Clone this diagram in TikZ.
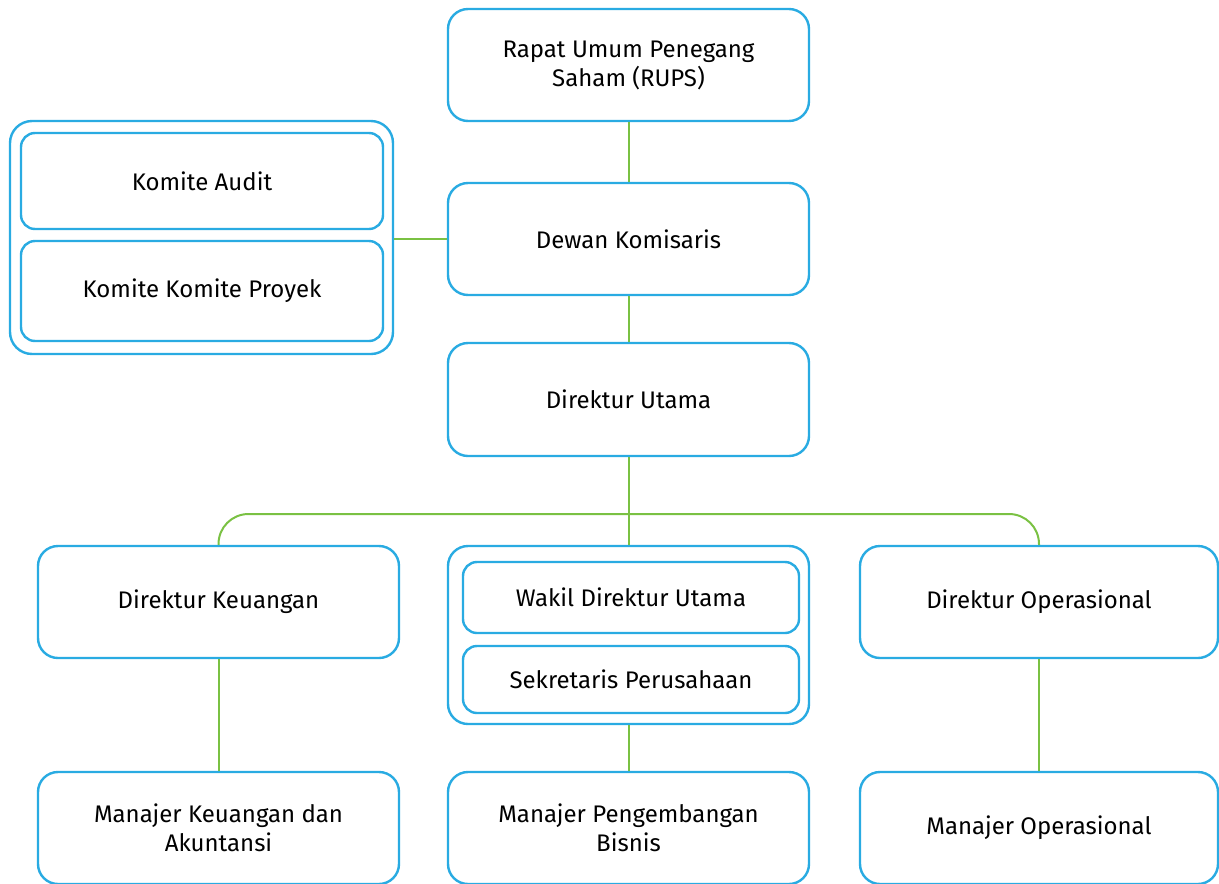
\documentclass[tikz,border=0pt]{standalone}
\usepackage{fontspec}
\setmainfont{Fira Sans}
\definecolor{bblue}{HTML}{29ABE2}
\definecolor{lgreen}{HTML}{7AC143}
\begin{document}
\begin{tikzpicture}[x=1pt,y=-1pt,
  box/.style={draw=bblue,line width=2.4pt,rounded corners=20pt,fill=white,align=center,
    font=\fontsize{24}{29}\selectfont,inner sep=0pt},
  small/.style={draw=bblue,line width=2.4pt,rounded corners=14pt,fill=white,align=center,
    font=\fontsize{24}{29}\selectfont,inner sep=0pt},
  link/.style={draw=lgreen,line width=2pt}]
\useasboundingbox (0,0) rectangle (1219,884);
\clip (0,0) rectangle (1219,884);
\coordinate (bar) at (629,514);
% main boxes
\node[box,minimum width=361pt,minimum height=112pt] (rups) at (628.5,65) {Rapat Umum Penegang\\Saham (RUPS)};
\node[box,minimum width=361pt,minimum height=112pt] (dewan) at (628.5,239) {Dewan Komisaris};
\node[box,minimum width=361pt,minimum height=113pt] (dirut) at (628.5,399.5) {Direktur Utama};
% committee group
\node[box,rounded corners=22pt,minimum width=383pt,minimum height=233pt] (kom) at (201.5,237.5) {};
\node[small,minimum width=362pt,minimum height=96pt] (audit) at (202,181) {Komite Audit};
\node[small,minimum width=362pt,minimum height=100pt] (proyek) at (202,291) {Komite Komite Proyek};
% second row
\node[box,minimum width=361pt,minimum height=112pt] (keu) at (218.5,602) {Direktur Keuangan};
\node[box,minimum width=361pt,minimum height=178pt] (mid) at (628.5,635) {};
\node[small,minimum width=336pt,minimum height=71pt] (wakil) at (631,597.5) {Wakil Direktur Utama};
\node[small,minimum width=336pt,minimum height=67pt] (sekr) at (631,679.5) {Sekretaris Perusahaan};
\node[box,minimum width=358pt,minimum height=112pt] (ops) at (1039,602) {Direktur Operasional};
% bottom row
\node[box,minimum width=361pt,minimum height=112pt] (mkeu) at (218.5,828) {Manajer Keuangan dan\\Akuntansi};
\node[box,minimum width=361pt,minimum height=112pt] (mbis) at (628.5,828) {Manajer Pengembangan\\Bisnis};
\node[box,minimum width=358pt,minimum height=112pt] (mops) at (1039,828) {Manajer Operasional};
% links
\draw[link] (rups.south) -- (dewan.north);
\draw[link] (dewan.south) -- (dirut.north);
\draw[link] (kom.east |- dewan.west) -- (dewan.west);
\draw[link] (dirut.south) -- (mid.north);
\draw[link,rounded corners=30pt] (keu.north) |- (bar) -| (ops.north);
\draw[link] (keu.south) -- (mkeu.north);
\draw[link] (mid.south) -- (mbis.north);
\draw[link] (ops.south) -- (mops.north);
\end{tikzpicture}
\end{document}
